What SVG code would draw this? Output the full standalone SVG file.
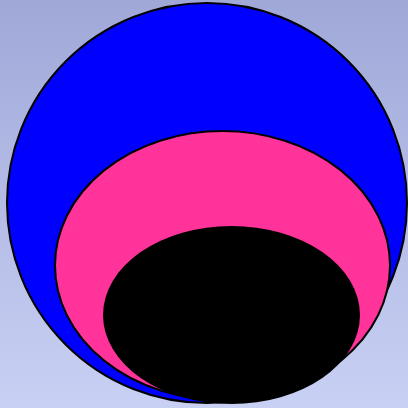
<svg xmlns="http://www.w3.org/2000/svg" width="408" height="408" viewBox="0 0 408 408">
  <defs>
    <linearGradient id="bg" x1="0" y1="0" x2="0" y2="1">
      <stop offset="0" stop-color="#a0a8d8"/>
      <stop offset="1" stop-color="#c8d0f4"/>
    </linearGradient>
  </defs>
  <style>
    .s { stroke: #000; stroke-width: 2; }
  </style>
  <rect x="0" y="0" width="408" height="408" fill="url(#bg)"/>
  <ellipse class="s" cx="207" cy="203" rx="200" ry="200" fill="#0000ff"/>
  <ellipse class="s" cx="222.5" cy="265.5" rx="167.5" ry="134.5" fill="#ff3399"/>
  <ellipse cx="231.5" cy="315" rx="128.5" ry="89" fill="#000000"/>
</svg>
